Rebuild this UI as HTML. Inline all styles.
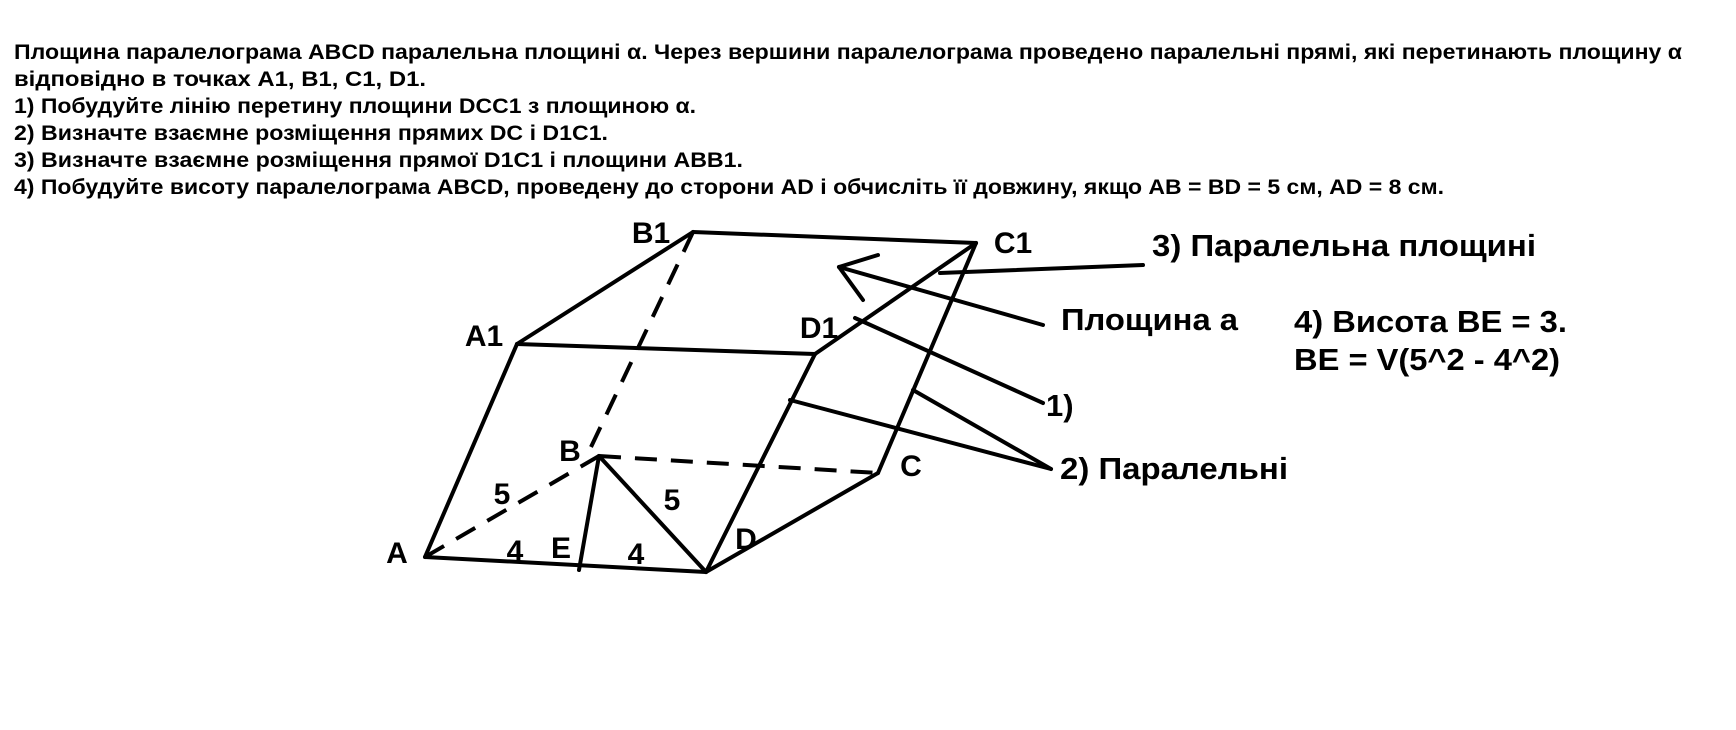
<!DOCTYPE html>
<html><head><meta charset="utf-8"><style>
html,body{margin:0;padding:0;background:#fff;}
svg{display:block;}
text{font-family:"Liberation Sans",Arial,sans-serif;font-weight:bold;fill:#000;}
</style></head><body>
<svg width="1736" height="730" viewBox="0 0 1736 730" xmlns="http://www.w3.org/2000/svg">
<g font-size="21">
<text x="14" y="59" textLength="1668" lengthAdjust="spacingAndGlyphs">Площина паралелограма ABCD паралельна площині α. Через вершини паралелограма проведено паралельні прямі, які перетинають площину α</text>
<text x="14" y="86" textLength="412" lengthAdjust="spacingAndGlyphs">відповідно в точках A1, B1, C1, D1.</text>
<text x="14" y="113" textLength="682" lengthAdjust="spacingAndGlyphs">1) Побудуйте лінію перетину площини DCC1 з площиною α.</text>
<text x="14" y="140" textLength="594" lengthAdjust="spacingAndGlyphs">2) Визначте взаємне розміщення прямих DC і D1C1.</text>
<text x="14" y="167" textLength="729" lengthAdjust="spacingAndGlyphs">3) Визначте взаємне розміщення прямої D1C1 і площини ABB1.</text>
<text x="14" y="194" textLength="1430" lengthAdjust="spacingAndGlyphs">4) Побудуйте висоту паралелограма ABCD, проведену до сторони AD і обчисліть її довжину, якщо AB = BD = 5 см, AD = 8 см.</text>
</g>
<g stroke="#000" stroke-width="4" fill="none" stroke-linecap="round">
<line x1="425" y1="557" x2="517" y2="344"/>
<line x1="517" y1="344" x2="693" y2="232"/>
<line x1="693" y1="232" x2="976" y2="243"/>
<line x1="517" y1="344" x2="815" y2="354"/>
<line x1="815" y1="354" x2="976" y2="243"/>
<line x1="815" y1="354" x2="706" y2="572"/>
<line x1="976" y1="243" x2="878" y2="473"/>
<line x1="878" y1="473" x2="706" y2="572"/>
<line x1="425" y1="557" x2="706" y2="572"/>
<line x1="599" y1="456" x2="706" y2="572"/>
<line x1="599" y1="456" x2="579" y2="570"/>
<g stroke-dasharray="22,14" stroke-linecap="butt">
<line x1="425" y1="557" x2="599" y2="456"/>
<line x1="599" y1="456" x2="878" y2="473"/>
<line x1="591" y1="447" x2="693" y2="232"/>
</g>
<line x1="1143" y1="265" x2="940" y2="273"/>
<line x1="1043" y1="325" x2="839" y2="267"/>
<line x1="839" y1="267" x2="863" y2="300"/>
<line x1="839" y1="267" x2="878" y2="255"/>
<line x1="855" y1="318" x2="1043" y2="403"/>
<line x1="790" y1="400" x2="1051" y2="469"/>
<line x1="913" y1="390" x2="1051" y2="469"/>
</g>
<g font-size="30" text-anchor="middle">
<text x="651" y="243">B1</text>
<text x="1013" y="253">C1</text>
<text x="484" y="346">A1</text>
<text x="819" y="338">D1</text>
<text x="570" y="461">B</text>
<text x="911" y="476">C</text>
<text x="397" y="563">A</text>
<text x="746" y="549">D</text>
<text x="561" y="558">E</text>
<text x="515" y="561">4</text>
<text x="636" y="564">4</text>
<text x="502" y="504">5</text>
<text x="672" y="510">5</text>
</g>
<g font-size="31">
<text x="1152" y="256" textLength="384" lengthAdjust="spacingAndGlyphs">3) Паралельна площині</text>
<text x="1061" y="330" textLength="177" lengthAdjust="spacingAndGlyphs">Площина а</text>
<text x="1294" y="332" textLength="273" lengthAdjust="spacingAndGlyphs">4) Висота BE = 3.</text>
<text x="1294" y="370" textLength="266" lengthAdjust="spacingAndGlyphs">BE = V(5^2 - 4^2)</text>
<text x="1046" y="416">1)</text>
<text x="1060" y="479" textLength="228" lengthAdjust="spacingAndGlyphs">2) Паралельні</text>
</g>
</svg>
</body></html>
